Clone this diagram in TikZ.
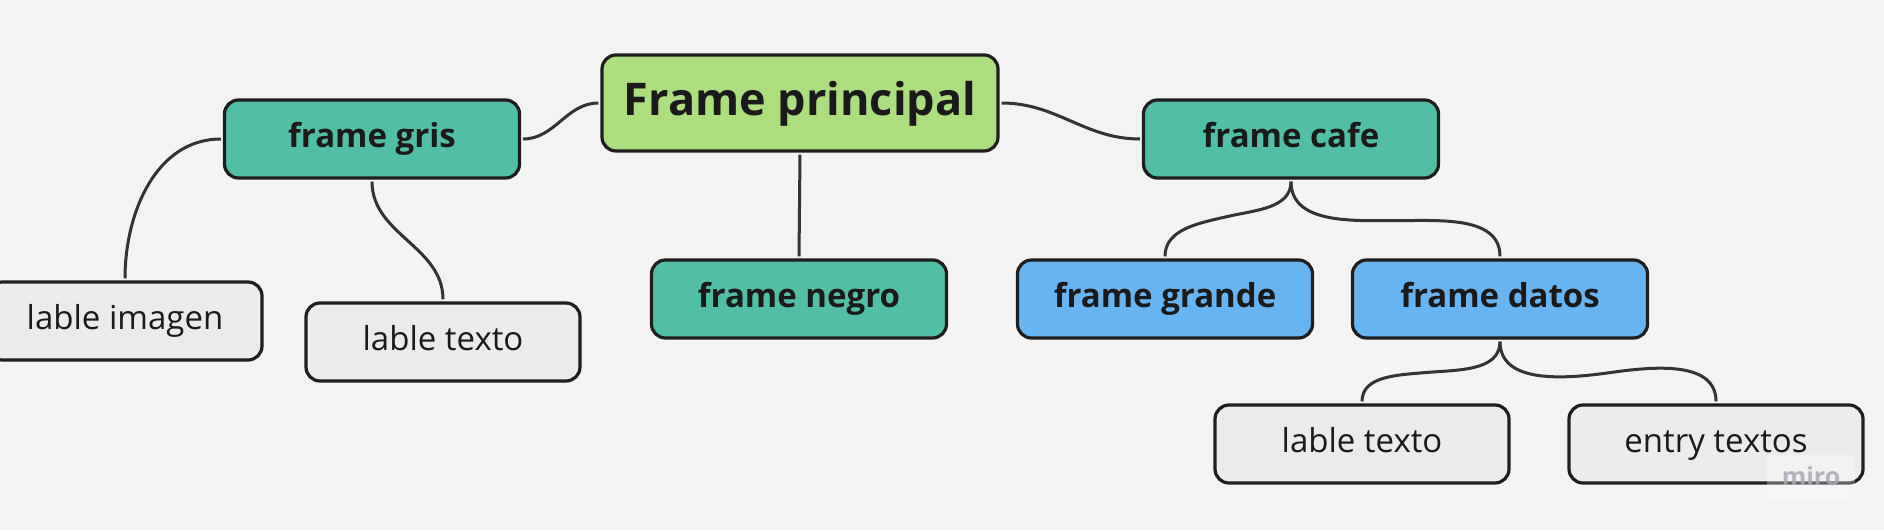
\documentclass[tikz,border=0pt]{standalone}
\usepackage{fontspec}
\setmainfont{Open Sans}
\usepackage{tikz}
\definecolor{bgpaper}{HTML}{F3F3F3}
\definecolor{boxline}{HTML}{1E1E1E}
\definecolor{wire}{HTML}{333333}
\definecolor{ink}{HTML}{1A1A1A}
\definecolor{greenfill}{HTML}{ACDD7E}
\definecolor{tealfill}{HTML}{52BEA6}
\definecolor{bluefill}{HTML}{68B4F1}
\definecolor{grayfill}{HTML}{EBEBEB}
\definecolor{markgray}{HTML}{A9A9B8}

\begin{document}
\begin{tikzpicture}[x=1pt, y=1pt,
	box/.style={draw=boxline, line width=3.2pt, rounded corners=14pt, inner sep=0pt, text=ink},
	main/.style={box, fill=greenfill, minimum width=396pt, minimum height=96pt,
		font=\fontsize{45}{54}\selectfont\bfseries, text height=34pt, text depth=10pt},
	frame/.style={box, fill=tealfill, minimum width=295pt, minimum height=78pt,
		font=\fontsize{33}{40}\selectfont\bfseries, text height=24pt, text depth=7pt},
	subframe/.style={frame, fill=bluefill},
	leaf/.style={box, fill=grayfill, minimum width=274pt, minimum height=78pt,
		font=\fontsize{33}{40}\selectfont, text height=24pt, text depth=7pt},
	wideleaf/.style={leaf, minimum width=294pt},
	link/.style={draw=wire, line width=3pt, shorten <=2pt, shorten >=2pt}]
	\useasboundingbox (0, 0) rectangle (1884, -530);
	\fill[bgpaper] (0, 0) rectangle (1884, -530);

	\node[main] (principal) at (800, -103) {Frame principal};
	\node[frame] (gris) at (372, -139) {frame gris};
	\node[frame] (cafe) at (1291, -139) {frame cafe};
	\node[frame] (negro) at (799, -299) {frame negro};
	\node[subframe] (grande) at (1165, -299) {frame grande};
	\node[subframe] (datos) at (1500, -299) {frame datos};
	\node[leaf] (imagen) at (125, -321) {lable imagen};
	\node[leaf] (textogris) at (443, -342) {lable texto};
	\node[wideleaf] (textodatos) at (1362, -444) {lable texto};
	\node[wideleaf] (entry) at (1716, -444) {entry textos};
	\node[fill=white, fill opacity=0.3, text opacity=0.85, text=markgray, minimum width=88pt, minimum height=43pt,
		font=\fontsize{25}{30}\selectfont\bfseries] (watermark) at (1811, -476) {miro};

	\draw[link] (principal.west) to[out=180, in=0] (gris.east);
	\draw[link] (principal.east) to[out=0, in=180] (cafe.west);
	\draw[link] (principal.south) -- (negro.north);
	\draw[link] (gris.west) to[out=180, in=90] (imagen.north);
	\draw[link] (gris.south) to[out=-90, in=90] (textogris.north);
	\draw[link] (cafe.south) to[out=-90, in=13] ++(-64, -37) to[out=193, in=90] (grande.north);
	\draw[link] (cafe.south) to[out=-90, in=180] ++(108, -41) to[out=0, in=90] (datos.north);
	\draw[link] (datos.south) to[out=-90, in=5] ++(-75, -33) to[out=185, in=90] (textodatos.north);
	\draw[link] (datos.south) to[out=-90, in=188] ++(110, -33) to[out=8, in=90] (entry.north);
\end{tikzpicture}
\end{document}
